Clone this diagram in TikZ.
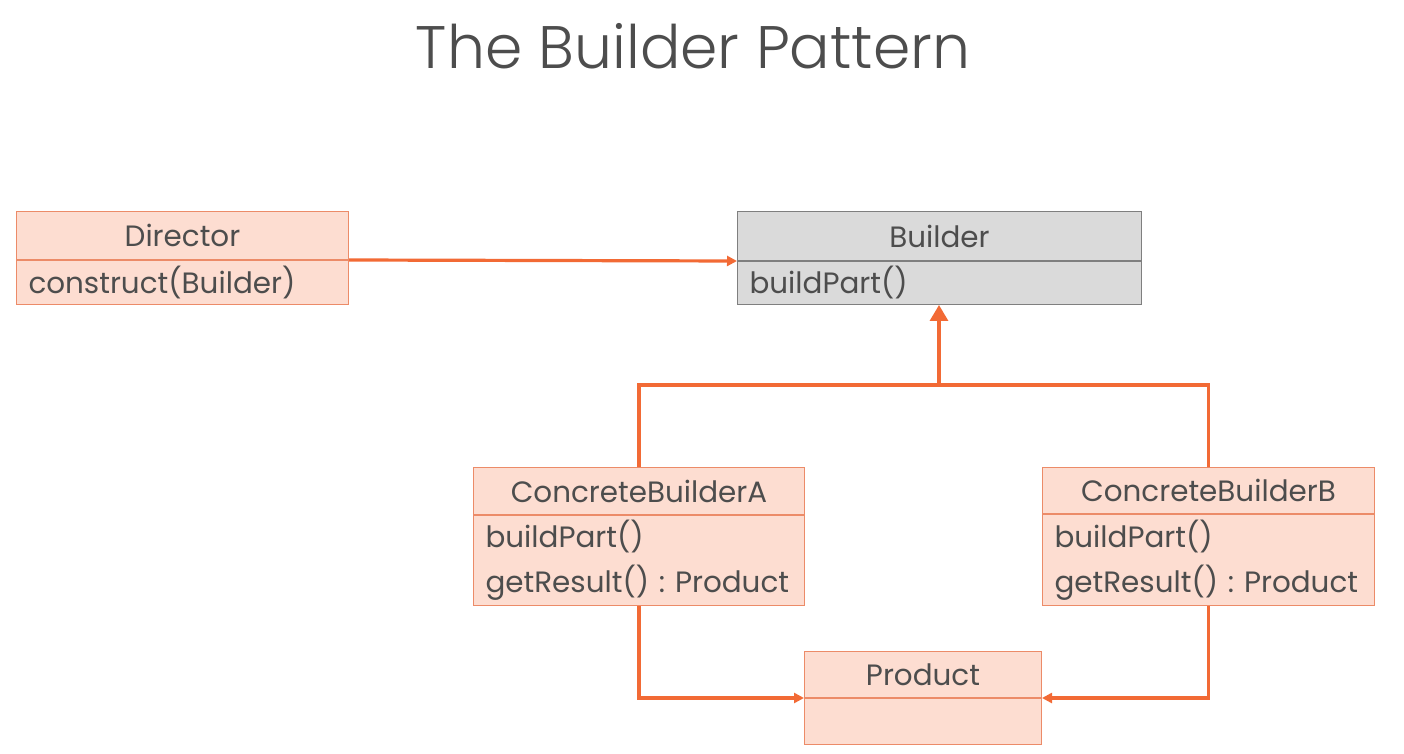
\documentclass[tikz,border=0pt]{standalone}
\usepackage{fontspec}
\setmainfont{Poppins}
\newfontfamily\titlefont{Poppins Light}
\usetikzlibrary{arrows.meta,positioning}
\frenchspacing
\definecolor{umlorange}{HTML}{F26A35}
\definecolor{umlfill}{HTML}{FDDDD1}
\definecolor{umledge}{HTML}{EC8B68}
\definecolor{umlgrey}{HTML}{DADADA}
\definecolor{umlgreyedge}{HTML}{7F7F7F}
\definecolor{umltext}{HTML}{4D4D4D}
\tikzstyle{classbox}=[draw=umledge,fill=umlfill,line width=0.5pt,anchor=north west,inner ysep=0pt,inner xsep=6pt,text=umltext,font=\fontsize{14.7}{22.5}\selectfont]
\tikzstyle{classhead}=[classbox,align=center]
\tikzstyle{classbody}=[classbox,align=left]
\tikzstyle{abstract}=[draw=umlgreyedge,fill=umlgrey]
\tikzstyle{edge}=[draw=umlorange,line width=1.6pt]
\tikzstyle{assoc}=[edge,-{Triangle[length=5pt,width=5pt]}]
\tikzstyle{inherit}=[edge,-{Triangle[length=8pt,width=9pt]}]

\begin{document}
\begin{tikzpicture}[x=0.5pt,y=-0.5pt]
    \useasboundingbox (0,0) rectangle (1404,754);
    % Title
    \node[text=umltext,font=\titlefont\fontsize{30}{33}\selectfont] (title) at (693,46) {The Builder Pattern};

    % First we draw the class headers
    \foreach \pos/\name/\w/\h/\txt in {{(16,211)/dirH/166pt/24pt/Director},{(473,467)/cbaH/165.5pt/23.5pt/ConcreteBuilderA},
        {(1042,467)/cbbH/166pt/23pt/ConcreteBuilderB},{(804,651)/prodH/118.5pt/23pt/Product}}
        \node[classhead,minimum width=\w,minimum height=\h,text width=\w-12pt] (\name) at \pos {\txt};
    \node[classhead,abstract,minimum width=202pt,minimum height=24.5pt,text width=190pt] (bldH) at (737,211) {Builder};

    % Then the method compartments
    \node[classbody,minimum width=166pt,minimum height=22pt,text width=154pt] (dirB) at (dirH.south west) {construct(Builder)};
    \node[classbody,abstract,minimum width=202pt,minimum height=21.5pt,text width=190pt] (bldB) at (bldH.south west) {buildPart()};
    \node[classbody,minimum width=165.5pt,minimum height=45pt,text width=153.5pt] (cbaB) at (cbaH.south west) {buildPart()\\getResult() : Product};
    \node[classbody,minimum width=166pt,minimum height=45.5pt,text width=154pt] (cbbB) at (cbbH.south west) {buildPart()\\getResult() : Product};
    \node[classbody,minimum width=118.5pt,minimum height=23pt,text width=106.5pt] (prodB) at (prodH.south west) {};

    % Connect classes with edges
    \coordinate (join) at (939,385);
    \path[assoc] (dirH.south east) -- (bldH.south west);
    \path[edge] (cbaH.north) |- (join) -| (cbbH.north);
    \path[inherit] (join) -- (join |- bldB.south);
    \path[assoc] (cbaB.south) |- (prodH.south west);
    \path[assoc] (cbbB.south) |- (prodH.south east);
\end{tikzpicture}
\end{document}
